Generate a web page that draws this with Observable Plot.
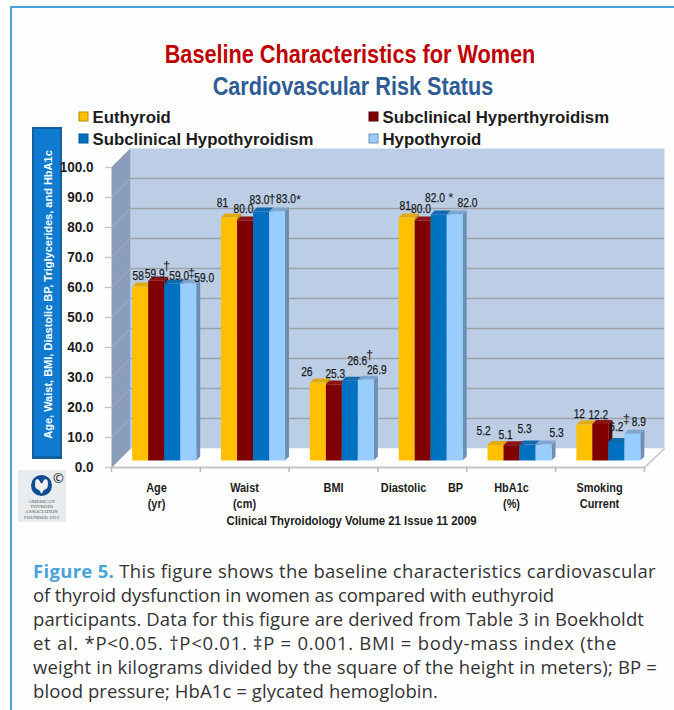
<!DOCTYPE html>
<html><head><meta charset="utf-8">
<script src="https://cdn.jsdelivr.net/npm/d3@7"></script>
<script src="https://cdn.jsdelivr.net/npm/@observablehq/plot@0.6"></script>
<style>
html,body{margin:0;padding:0;background:#fefefe;}
body{width:674px;height:710px;overflow:hidden;position:relative;font-family:"Liberation Sans",Arial,sans-serif;}
#frame{position:absolute;left:10px;top:6px;width:662px;height:704px;border-top:2px solid #4aa3d8;border-left:2px solid #4aa3d8;border-right:1px solid #6ab2de;box-sizing:content-box;pointer-events:none;}
#head{height:100px;box-sizing:border-box;padding-top:38px;text-align:center;padding-left:26px;font-weight:700;font-size:25px;line-height:32px;}
#head div{transform:scaleX(.867);transform-origin:center;}
#head .a{color:#c00000;}#head .b{color:#2f5c94;position:relative;left:3px;}
svg{display:block;}
#cap{position:absolute;left:33px;top:559px;width:640px;white-space:nowrap;font-family:"Open Sans",sans-serif;font-size:18.5px;line-height:24px;color:#333;}
#cap span{display:block;}
#cap b{color:#4aa3d8;font-weight:700;}
</style></head><body>
<div id="frame"></div>
<div id="head"><div class="a">Baseline Characteristics for Women</div><div class="b">Cardiovascular Risk Status</div></div>
<div id="chart"></div>
<div id="cap"><span><b>Figure 5.</b> This figure shows the baseline characteristics cardiovascular</span><span>of thyroid dysfunction in women as compared with euthyroid</span><span>participants. Data for this figure are derived from Table 3 in Boekholdt</span><span>et al. *P&lt;0.05. †P&lt;0.01. ‡P = 0.001. BMI = body-mass index (the</span><span>weight in kilograms divided by the square of the height in meters); BP =</span><span>blood pressure; HbA1c = glycated hemoglobin.</span></div>
<script>
// ---------- data ----------
const categories = ["Age","Waist","BMI","Diastolic BP","HbA1c","Smoking Current"];
const seriesNames = ["Euthyroid","Subclinical Hyperthyroidism","Subclinical Hypothyroidism","Hypothyroid"];
const euthyroid = [58,81,26,81,5.2,12];
const subHyper  = [59.9,80,25.3,80,5.1,12.2];
const subHypo   = [59,83,26.6,82,5.3,6.2];
const hypo      = [59,83,26.9,82,5.3,8.9];
const euthyroidLabels = ["58","81","26","81","5.2","12"];
const subHyperLabels  = ["59.9","80.0","25.3","80.0","5.1","12.2"];
const subHypoLabels   = ["59.0","83.0","26.6","82.0","5.3","6.2"];
const hypoLabels      = ["59.0","83.0","26.9","82.0","5.3","8.9"];
const significance = [[0,2,"†"],[0,3,"‡"],[1,2,"†"],[1,3,"*"],[2,2,"†"],[3,2,"*"],[5,2,"‡"]];
const yTicks = [0,10,20,30,40,50,60,70,80,90,100];
const categoryLabels = [["Age",156,487],["(yr)",156,503],["Waist",244,487],["(cm)",244,503],["BMI",333,487],["Diastolic",403,487],["BP",455,487],["HbA1c",511,487],["(%)",511,503],["Smoking",599,487],["Current",599,503]];

// ---------- styling / layout ----------
const values = [euthyroid,subHyper,subHypo,hypo];
const valueLabels = [euthyroidLabels,subHyperLabels,subHypoLabels,hypoLabels];
const front = ["#ffc000","#7f0000","#0070c0","#99ccff"];
const topFace = ["#e2aa12","#8c1414","#1468ac","#7fa6cf"];
const sideFace = ["#b98c00","#5c0000","#005596","#6c8fb4"];
const labelNudge = [
 [[-2,-10],[-6.5,-14],[-11,-10],[-1.5,-11],[-12,-14],[-5,-10]],
 [[-1.5,-7],[-1.5,-11],[1.5,-10],[-1.7,-11],[-6,-10],[-2,-9]],
 [[7,-7],[-1.5,-11],[7.5,-20],[-3.7,-16],[-3,-15],[0,-15]],
 [[16,-5],[9,-12],[11,-10],[12.8,-11],[13,-11],[6.5,-12]]
];
const sigNudge = [[-5.7,-18],[3.3,-11],[11,-13],[21.5,-12],[19.8,-26],[12,-17],[10,-23]];
const sans = '"Liberation Sans",sans-serif';
const pxX = 533/6, pxY = 3;
const X = px => (px-111)/pxX, Y = py => (460-py)/pxY;     // page pixel -> data units, for chart furniture
const barStart = 20.7/pxX, barW = 16/pxX, dX = 4/pxX, dY = 4/pxY;
const floorF = Y(467), floorB = Y(448), wallX = X(130), wallR = X(664), wallT = Y(148);

const polys = []; let pid = 0;
const poly = (pts, fill) => { pid++; pts.forEach(p => polys.push({id:pid, x:p[0], y:p[1], fill})); };
poly([[wallX,floorB],[wallR,floorB],[wallR,wallT],[wallX,wallT]], "#bbcee6");
poly([[0,floorF],[wallX,floorB],[wallX,wallT],[0,floorF+100]], "#8a9ebc");
poly([[0,floorF],[6,floorF],[wallR,floorB],[wallX,floorB]], "#ffffff");
const bars = [];
categories.forEach((c,g) => seriesNames.forEach((s,j) => {
  const v = values[j][g], x0 = g+barStart+j*barW, x1 = x0+barW;
  bars.push({g,j,x0,x1,v});
}));
const barPolys = []; let bid = 0;
const bpoly = (pts, fill) => { bid++; pts.forEach(p => barPolys.push({id:bid, x:p[0], y:p[1], fill})); };
bars.forEach(b => {
  bpoly([[b.x1,0],[b.x1+dX,dY],[b.x1+dX,b.v+dY],[b.x1,b.v]], sideFace[b.j]);
  bpoly([[b.x0,b.v],[b.x1,b.v],[b.x1+dX,b.v+dY],[b.x0+dX,b.v+dY]], topFace[b.j]);
  bpoly([[b.x0,0],[b.x1,0],[b.x1,b.v],[b.x0,b.v]], front[b.j]);
});
const barLabels = bars.map(b => ({x:(b.x0+b.x1)/2, y:b.v, t:valueLabels[b.j][b.g], dx:labelNudge[b.j][b.g][0], dy:labelNudge[b.j][b.g][1]}));
const sigLabels = significance.map(([g,j,t],i) => ({x:g+barStart+(j+.5)*barW, y:values[j][g], t, dx:sigNudge[i][0], dy:sigNudge[i][1]}));
const lineMark = d => Plot.line(d,{x:"x",y:"y",z:"id",fill:"fill",stroke:"none",curve:"linear-closed"});
const textAt = (rows,o) => Plot.text(rows,{x:d=>X(d[1]),y:d=>Y(d[2]),text:d=>d[0],fontFamily:sans,fontWeight:700,fill:"#1c1c1c",...o});

const legend = [[79,117,92],[369,117,382],[79,139,92],[369,139,382]];
const legendRows = seriesNames.map((s,j)=>({s,j,sx:legend[j][0],sy:legend[j][1],tx:legend[j][2]}));
const thyroidShape = [[35,480],[38,479],[41,483],[44,479],[47,480],[47,487],[43,490],[41,493],[39,490],[35,487]];

const plot = Plot.plot({
  width:674,height:440,marginLeft:111,marginRight:30,marginTop:60,marginBottom:80,
  x:{domain:[0,6],axis:null},y:{domain:[0,100],axis:null},
  style:{background:"transparent",overflow:"visible"},
  marks:[
    // blue y-title box
    Plot.rect([0],{x1:X(32),x2:X(62),y1:Y(127),y2:Y(459),fill:"#14609f"}),
    Plot.rect([0],{x1:X(34),x2:X(60),y1:Y(129),y2:Y(456),fill:"#0f7bd0"}),
    Plot.text(["Age, Waist, BMI, Diastolic BP, Triglycerides, and HbA1c"],{x:X(48),y:Y(294),text:d=>d,rotate:-90,fill:"#fff",fontWeight:700,fontSize:11,fontFamily:sans}),
    // walls, floor
    lineMark(polys),
    Plot.ruleY(yTicks.slice(1,-1),{y:d=>d+floorB,x1:wallX,x2:wallR,stroke:"#9ea3a9",strokeWidth:1.5}),
    Plot.link(yTicks.slice(1),{x1:0,y1:d=>d+floorF,x2:wallX,y2:d=>d+floorB,stroke:"#a4afc0",strokeWidth:1}),
    Plot.ruleY([floorF],{x1:0,x2:6,stroke:"#c4c4c4",strokeWidth:2}),
    Plot.link([0],{x1:0,y1:floorF,x2:wallX,y2:floorB,stroke:"#a9a9a9"}),
    Plot.link([0],{x1:6,y1:floorF,x2:wallR,y2:floorB,stroke:"#c4c4c4",strokeWidth:1.5}),
    Plot.ruleX([0,1,2,3,4,5,6],{x:d=>d,y1:floorF,y2:Y(472),stroke:"#b8b8b8",strokeWidth:1.5}),
    // y axis
    Plot.ruleY(yTicks,{y:d=>d+floorF,x1:X(105),x2:0,stroke:"#c8c8c8",strokeWidth:1.5}),
    Plot.axisY({ticks:yTicks,tickFormat:d=>d.toFixed(1),tickSize:0,tickPadding:18,dy:7,label:null,fontSize:15,fontWeight:700,fontFamily:sans,color:"#1c1c1c",className:"squeeze90"}),
    // bars
    lineMark(barPolys),
    // labels
    ...barLabels.map(d=>Plot.text([d],{x:"x",y:"y",text:"t",dx:d.dx,dy:d.dy,fontSize:12,fontFamily:sans,fill:"#1c1c1c",stroke:"#1c1c1c",strokeWidth:.25,className:"squeeze85"})),
    ...sigLabels.map(d=>Plot.text([d],{x:"x",y:"y",text:"t",dx:d.dx,dy:d.dy,fontSize:13,fontFamily:sans,fill:"#1c1c1c"})),
    // category labels & credit
    textAt(categoryLabels,{fontSize:13,className:"squeeze84"}),
    textAt([["Clinical Thyroidology Volume 21 Issue 11 2009",351,520]],{fontSize:13.5,className:"squeeze84"}),
    // legend
    Plot.rect(legendRows,{x1:d=>X(d.sx),x2:d=>X(d.sx+9),y1:d=>Y(d.sy-5),y2:d=>Y(d.sy+4),fill:d=>front[d.j],stroke:d=>sideFace[d.j]}),
    Plot.text(legendRows,{x:d=>X(d.tx),y:d=>Y(d.sy),text:"s",textAnchor:"start",fontSize:16.8,fontWeight:700,fill:"#1c1c1c",fontFamily:sans}),
    // society logo
    Plot.rect([0],{x1:X(18),x2:X(66),y1:Y(470),y2:Y(522),fill:"#e9ecef"}),
    Plot.dot([[41,485]],{x:d=>X(d[0]),y:d=>Y(d[1]),r:10.5,fill:"#0f4c92"}),
    Plot.line(thyroidShape,{x:d=>X(d[0]),y:d=>Y(d[1]),fill:"#eef0f2",stroke:"none",curve:"cardinal-closed"}),
    Plot.text([["©",58,478]],{x:d=>X(d[1]),y:d=>Y(d[2]),text:d=>d[0],fontSize:13,fill:"#222"}),
    Plot.text([["AMERICAN",41,501],["THYROID",41,506],["ASSOCIATION",41,511],["FOUNDED 1923",41,517]],{x:d=>X(d[1]),y:d=>Y(d[2]),text:d=>d[0],fontSize:5,fontFamily:'"Liberation Serif",serif',fill:"#555"})
  ]
});
document.getElementById("chart").appendChild(plot);
// narrow-face look: no condensed face is installed, so tighten the text by fitted length
[["squeeze90",.9],["squeeze85",.85],["squeeze84",.84]].forEach(([c,f]) => {
  plot.querySelectorAll("."+c+" text, text."+c).forEach(t => {
    t.setAttribute("textLength", t.getComputedTextLength()*f);
    t.setAttribute("lengthAdjust","spacingAndGlyphs");
  });
});
// caption: fit each line to the reference's measure
const capWidths = [623,521,611,584,624,405];
document.querySelectorAll("#cap span").forEach((s,i) => {
  const r = document.createRange(); r.selectNodeContents(s);
  const w = r.getBoundingClientRect().width;
  s.style.letterSpacing = ((capWidths[i]-w)/s.textContent.length)+"px";
});
</script>
</body></html>
